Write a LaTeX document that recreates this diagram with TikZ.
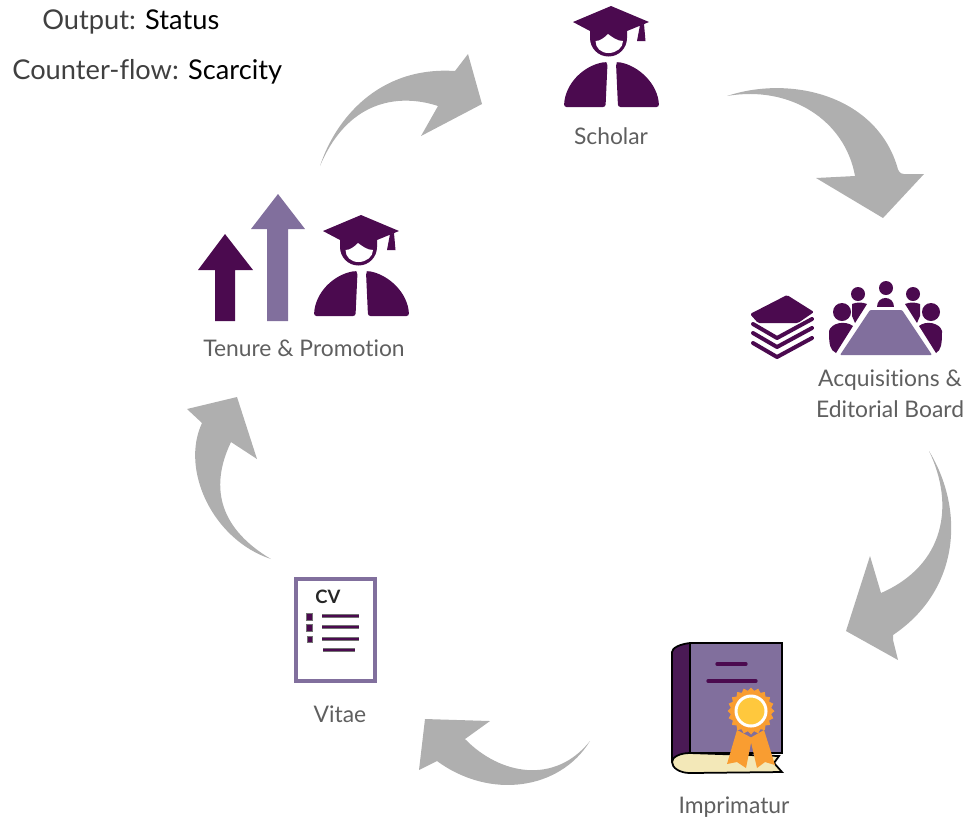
\documentclass[tikz,border=0pt]{standalone}
\usepackage{fontspec}
\setmainfont{Lato}[Ligatures=NoCommon]
\usetikzlibrary{shapes.geometric}
\definecolor{plum}{HTML}{4B0A4F}
\definecolor{lavender}{HTML}{816F9D}
\definecolor{flowgrey}{HTML}{AFAFAF}
\definecolor{labelgrey}{HTML}{5F5F5F}
\definecolor{spine}{HTML}{4A1A55}
\definecolor{page}{HTML}{F3E8B8}
\definecolor{ribbon}{HTML}{F99D31}
\definecolor{gold}{HTML}{FFC83D}
\tikzset{
	flow/.style={fill=flowgrey},
	iconlabel/.style={text=labelgrey, font=\fontsize{13}{15}\selectfont, inner sep=0},
	headline/.style={text=black!75, font=\fontsize{15.5}{18}\selectfont, inner sep=0},
	bookline/.style={draw=black, line width=0.035cm},
	titleline/.style={draw=plum, line width=0.065cm, line cap=round},
	cvline/.style={draw=black!55, line width=0.012cm, double=plum, double distance=0.05cm},
	cvbullet/.style={draw=black!55, line width=0.012cm, fill=plum},
	stackline/.style={draw=plum, line width=0.08cm, line cap=round, line join=round},
	scholar/.pic={
		\fill[plum] (-38,16) -- (0,0) -- (38,16) -- (16,25) -- (16,32) .. controls (16,42) and (8,50.5) .. (-2.5,50.5) .. controls (-13,50.5) and (-21,42) .. (-21,32) -- (-21,25) -- cycle;
		\fill[white] (-15.5,35) .. controls (-11,35) and (-7,32) .. (-3,28) .. controls (1,31) and (6,35) .. (12,35) .. controls (12,42) and (5,47) .. (-2.5,47) .. controls (-10,47) and (-15.5,42) .. (-15.5,35) -- cycle;
		\fill[plum] (29,19) -- (26,35) -- (34.5,35) -- (33,18) -- cycle;
		\fill[plum, rounded corners=0.05cm] (-47,101) .. controls (-46,78) and (-28,60) .. (-6,56) -- (-3.5,57) -- (-5.5,101) -- cycle;
		\fill[plum, rounded corners=0.05cm] (5,57) -- (7,56) .. controls (28,60) and (47,78) .. (48,101) -- (7,101) -- cycle;
	}
}
\begin{document}
\begin{tikzpicture}[x=0.02cm, y=-0.02cm]
	\useasboundingbox (0,0) rectangle (972,823);

	\node[headline, anchor=west] (output) at (42,22) {Output: \textcolor{black}{Status}};
	\node[headline, anchor=west] (counter) at (12,72) {Counter-flow: \textcolor{black}{Scarcity}};

	\fill[flow] (320,166) .. controls (335,120) and (378,66) .. (455,71) -- (468,54) -- (482,104) -- (421,136) -- (438,106) .. controls (405,95) and (350,95) .. (320,166);
	\fill[flow] (727,96) .. controls (790,75) and (875,95) .. (897,166) .. controls (898,171) and (900,174) .. (904,174) -- (924,174) -- (883,218) -- (816,178) -- (855,176) .. controls (845,120) and (790,85) .. (727,96);
	\fill[flow] (929,451) .. controls (965,510) and (960,590) .. (893,635) -- (893,640) -- (898,660) -- (846,631) -- (870,556) -- (881,593) .. controls (945,565) and (955,505) .. (929,451);
	\fill[flow] (590,741) .. controls (560,790) and (490,800) .. (437,761) -- (419,770) -- (425,719) -- (490,721) -- (465,739) .. controls (500,775) and (555,785) .. (590,741);
	\fill[flow] (271,559) .. controls (213,540) and (180,470) .. (202,423) -- (187,409) -- (237,397) -- (257,459) -- (231,442) .. controls (208,490) and (222,530) .. (271,559);

	\pic at (611,6) {scholar};
	\node[iconlabel] (scholarlabel) at (611,136) {Scholar};

	\pic at (361,215) {scholar};
	\fill[plum] (225,234) -- (253,270) -- (235,270) -- (235,321) -- (215,321) -- (215,270) -- (198,270) -- cycle;
	\fill[lavender] (278,194) -- (305,229) -- (288,229) -- (288,321) -- (267,321) -- (267,229) -- (251,229) -- cycle;
	\node[iconlabel] (tenurelabel) at (304,348) {Tenure \& Promotion};

	\fill[plum, rounded corners=0.03cm] (787,295) -- (814,312) -- (798,323) -- (758,323) -- (750,314) -- cycle;
	\draw[stackline] (753,324) -- (777,338) -- (812,319);
	\draw[stackline] (753,333) -- (777,347) -- (812,328);
	\draw[stackline] (753,343) -- (777,357) -- (812,338);
	\fill[lavender, rounded corners=0.02cm] (870,310) -- (902,310) -- (932,355) -- (840,355) -- cycle;
	\fill[plum] (886,288) circle (7);
	\fill[plum] (877,307) .. controls (877,295) and (894,295) .. (894,307) -- cycle;
	\fill[plum] (842,312) circle (9);
	\fill[plum] (829,331) .. controls (831,323) and (845,320) .. (853,326) -- (836,353) .. controls (830,350) and (829,345) .. (829,331);
	\fill[plum] (858,294) circle (7);
	\fill[plum] (852,304) .. controls (857,302) and (862,302) .. (867,304) -- (855,323) -- (852,316) -- cycle;
	\fill[plum] (913,294) circle (7);
	\fill[plum] (920,304) .. controls (915,302) and (910,302) .. (905,304) -- (917,323) -- (920,316) -- cycle;
	\fill[plum] (931,312) circle (9);
	\fill[plum] (942,331) .. controls (940,323) and (926,320) .. (919,326) -- (936,353) .. controls (941,350) and (942,345) .. (942,331);
	\node[iconlabel] (acquisitions) at (890,380) {Acquisitions \&};
	\node[iconlabel] (board) at (890,409) {Editorial Board};

	\fill[spine] (690,643) .. controls (680,644) and (672,648) .. (672,652) -- (672,762) .. controls (672,757) and (680,753) .. (690,753) -- cycle;
	\draw[bookline] (690,643) .. controls (680,644) and (672,648) .. (672,652) -- (672,762);
	\draw[bookline, fill=lavender] (690,643) rectangle (782,753);
	\draw[bookline, fill=page] (690,753) -- (779,756) -- (774,763) -- (782,772) -- (690,773) .. controls (680,773) and (672,768) .. (672,762) .. controls (672,757) and (680,753) .. (690,753) -- cycle;
	\draw[titleline] (717,664) -- (746,664);
	\draw[titleline] (708,681) -- (756,681);
	\fill[ribbon] (737,730) -- (727,764) -- (737,762) -- (746,768) -- (752,738) -- cycle;
	\fill[ribbon] (750,738) -- (757,768) -- (765,762) -- (775,765) -- (764,730) -- cycle;
	\node[star, star points=20, star point ratio=1.15, minimum size=0.94cm, inner sep=0, fill=ribbon] (seal) at (751,711) {};
	\draw[white, fill=gold, line width=0.06cm] (seal.center) circle (15);
	\node[iconlabel] (imprimatur) at (734,807) {Imprimatur};

	\draw[lavender, line width=0.09cm] (296,579) rectangle (375,681);
	\node[text=black!85, font=\fontsize{10.5}{12}\selectfont\bfseries, inner sep=0] (cv) at (328,597) {CV};
	\draw[cvbullet] (306,613) rectangle (312,620);
	\draw[cvbullet] (306,624) rectangle (312,631);
	\draw[cvbullet] (307,636) rectangle (312,642);
	\draw[cvline] (322,616) -- (359,616);
	\draw[cvline] (322,627) -- (359,627);
	\draw[cvline] (322,639) -- (359,639);
	\draw[cvline] (323,650) -- (355,650);
	\node[iconlabel] (vitae) at (340,714) {Vitae};
\end{tikzpicture}
\end{document}
